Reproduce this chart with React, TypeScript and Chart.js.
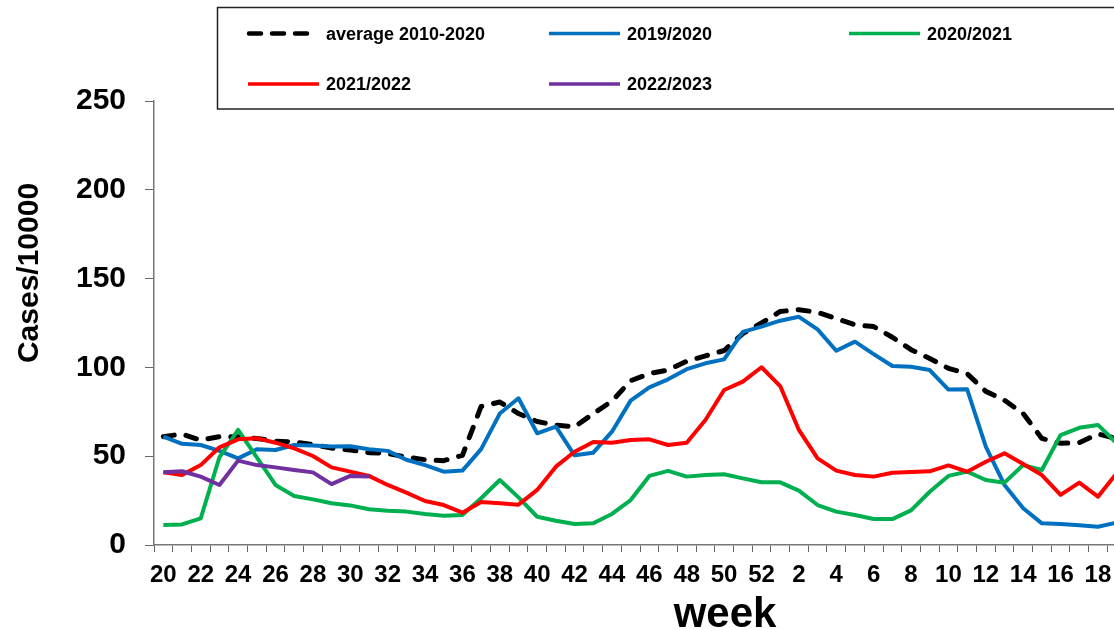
import { useEffect, useRef } from "react";
import { Chart, registerables } from "chart.js";

Chart.register(...registerables);

const weeks = [
  "20", "21", "22", "23", "24", "25", "26", "27", "28", "29", "30", "31", "32", "33", "34", "35", "36",
  "37", "38", "39", "40", "41", "42", "43", "44", "45", "46", "47", "48", "49", "50", "51", "52",
  "1", "2", "3", "4", "5", "6", "7", "8", "9", "10", "11", "12", "13", "14", "15", "16", "17", "18", "19",
];

const average2010_2020 = [
  61, 62.5, 59, 61, 61, 60, 58.5, 58, 56.5, 54.6, 53.5, 52, 51.5, 49.5, 48, 47.5, 50.5,
  78, 80.5, 74, 69.5, 67.5, 66.5, 74, 81, 92.5, 96.5, 98.5, 103.5, 106.5, 109.5, 119, 125,
  131.5, 132.5, 131, 127.5, 124, 123, 117, 110, 105, 99.5, 96.5, 86.5, 81.5, 74, 60, 57.3, 57.6, 62.5, 60,
];

const season2019_2020 = [
  61, 57, 56.3, 53, 48.8, 53.9, 53.5, 56.3, 56, 55.4, 55.6, 53.9, 53, 48, 45, 41.3, 41.9,
  54, 74, 82.6, 62.9, 66.6, 50.5, 52, 63.8, 81.3, 88.8, 93.3, 99, 102.3, 104.5, 120, 123,
  126.3, 128.5, 121.4, 109.4, 114.5, 107.5, 100.8, 100.4, 98.5, 87.5, 87.7, 55.4, 33.8, 20.7, 12.2, 11.8, 11.1, 10.3, 12.6,
];

const season2020_2021 = [
  11.3, 11.6, 15, 49.4, 64.8, 49.4, 33.8, 27.6, 25.7, 23.5, 22.3, 20.1, 19.3, 18.8, 17.5, 16.5, 16.9,
  26.3, 36.6, 26.8, 15.9, 13.7, 11.8, 12.2, 17.5, 25.3, 38.9, 41.7, 38.5, 39.4, 39.8, 37.5, 35.3,
  35.3, 30.6, 22.5, 18.8, 16.9, 14.6, 14.6, 19.5, 30, 38.9, 41.3, 36.6, 35.1, 45, 42.2, 61.9, 66, 67.6, 57.3,
];

const season2021_2022 = [
  40.9, 39.4, 45, 55, 59.5, 60.1, 57.6, 54.4, 50.1, 43.7, 41.3, 38.9, 33.8, 29.5, 24.8, 22.5, 18.2,
  24.2, 23.5, 22.7, 31, 44.1, 52.5, 58, 57.6, 59.1, 59.5, 56.3, 57.6, 70.4, 87.3, 92, 100.1,
  89.5, 64.8, 48.8, 41.9, 39.4, 38.5, 40.7, 41.1, 41.5, 44.8, 41.3, 46.9, 51.6, 45.6, 39.4, 28.2, 35.1, 27.2, 40.4,
];

const season2022_2023 = [40.9, 41.5, 38.5, 33.8, 47.5, 45, 43.7, 42.2, 40.9, 34.3, 38.9, 38.5];

const seriesLabels = ["average 2010-2020", "2019/2020", "2020/2021", "2021/2022", "2022/2023"];
const seriesColors = ["#000000", "#0070C0", "#00B050", "#FF0000", "#7030A0"];

const yTicks = [0, 50, 100, 150, 200, 250];

const FONT = '"Liberation Sans", Arial, sans-serif';

const overlayPlugin = {
  id: "overlay",
  afterDraw(chart: any) {
    const ctx = chart.ctx as CanvasRenderingContext2D;
    ctx.save();
    // legend box
    ctx.fillStyle = "#ffffff";
    ctx.fillRect(217.5, 7.5, 1000, 101.5);
    ctx.strokeStyle = "#222222";
    ctx.lineWidth = 1.5;
    ctx.strokeRect(217.5, 7.5, 1000, 101.5);

    const cols = [248, 549, 849];
    const rows = [33.5, 84];
    const baselines = [39.5, 90];
    ctx.font = `bold 18px ${FONT}`;
    ctx.textBaseline = "alphabetic";
    ctx.textAlign = "left";
    seriesLabels.forEach((label, i) => {
      const col = i % 3;
      const row = Math.floor(i / 3);
      const x = cols[col];
      const y = rows[row];
      ctx.beginPath();
      ctx.strokeStyle = seriesColors[i];
      if (i === 0) {
        ctx.lineWidth = 4.5;
        ctx.lineCap = "round";
        ctx.setLineDash([12, 11]);
        ctx.moveTo(x + 1, y);
        ctx.lineTo(x + 70, y);
      } else {
        ctx.lineWidth = 3.5;
        ctx.lineCap = "butt";
        ctx.setLineDash([]);
        ctx.moveTo(x, y);
        ctx.lineTo(x + 71, y);
      }
      ctx.stroke();
      ctx.setLineDash([]);
      ctx.fillStyle = "#000000";
      ctx.fillText(label, x + 78, baselines[row]);
    });

    // axis titles
    ctx.fillStyle = "#000000";
    ctx.font = `bold 42px ${FONT}`;
    ctx.textAlign = "center";
    ctx.textBaseline = "alphabetic";
    ctx.fillText("week", 725, 627);

    ctx.save();
    ctx.translate(38, 273);
    ctx.rotate(-Math.PI / 2);
    ctx.font = `bold 30px ${FONT}`;
    ctx.textAlign = "center";
    ctx.textBaseline = "alphabetic";
    ctx.fillText("Cases/10000", 0, 0);
    ctx.restore();

    ctx.restore();
  },
};

export default function App() {
  const canvasRef = useRef<HTMLCanvasElement | null>(null);

  useEffect(() => {
    if (!canvasRef.current) return;
    const datasets = [
      {
        label: seriesLabels[0],
        data: average2010_2020,
        borderColor: seriesColors[0],
        borderWidth: 5,
        borderDash: [11, 12],
        borderCapStyle: "round" as const,
        order: 5,
      },
      { label: seriesLabels[1], data: season2019_2020, borderColor: seriesColors[1], borderWidth: 4, order: 4 },
      { label: seriesLabels[2], data: season2020_2021, borderColor: seriesColors[2], borderWidth: 4, order: 3 },
      { label: seriesLabels[3], data: season2021_2022, borderColor: seriesColors[3], borderWidth: 4, order: 2 },
      { label: seriesLabels[4], data: season2022_2023, borderColor: seriesColors[4], borderWidth: 4, order: 1 },
    ].map((d) => ({
      ...d,
      backgroundColor: d.borderColor,
      pointRadius: 0,
      pointHoverRadius: 0,
      tension: 0,
      fill: false,
      borderJoinStyle: "round" as const,
    }));

    const chart = new Chart(canvasRef.current, {
      type: "line",
      data: { labels: weeks, datasets },
      options: {
        responsive: false,
        animation: false,
        events: [],
        layout: { padding: { top: 101, left: 0, right: 0, bottom: 0 } },
        plugins: {
          legend: { display: false },
          tooltip: { enabled: false },
          title: { display: false },
        },
        scales: {
          x: {
            type: "category",
            offset: true,
            afterFit: (scale: any) => {
              scale.height = 85;
            },
            grid: {
              offset: true,
              drawOnChartArea: false,
              drawTicks: true,
              tickLength: 7,
              color: "#666666",
              tickColor: "#666666",
              lineWidth: 1,
            },
            border: { display: true, color: "#777777", width: 1.5 },
            ticks: {
              autoSkip: false,
              maxRotation: 0,
              minRotation: 0,
              padding: 9,
              color: "#000000",
              font: { family: FONT, size: 24, weight: "bold" },
              callback: (_v: any, index: number) => (index % 2 === 0 ? weeks[index] : ""),
            },
          },
          y: {
            min: 0,
            max: 250,
            afterFit: (scale: any) => {
              scale.width = 154;
            },
            afterBuildTicks: (scale: any) => {
              scale.ticks = yTicks.map((v) => ({ value: v }));
            },
            grid: {
              drawOnChartArea: false,
              drawTicks: true,
              tickLength: 9,
              color: "#666666",
              tickColor: "#666666",
              lineWidth: 1,
            },
            border: { display: true, color: "#777777", width: 1.5 },
            ticks: {
              padding: 19,
              color: "#000000",
              font: { family: FONT, size: 30, weight: "bold" },
            },
          },
        },
      },
      plugins: [overlayPlugin],
    });
    return () => chart.destroy();
  }, []);

  return (
    <div
      style={{
        position: "absolute",
        left: 0,
        top: 0,
        width: 1114,
        height: 630,
        overflow: "hidden",
        background: "#ffffff",
      }}
    >
      <canvas ref={canvasRef} width={1126} height={630} style={{ display: "block" }} />
    </div>
  );
}
